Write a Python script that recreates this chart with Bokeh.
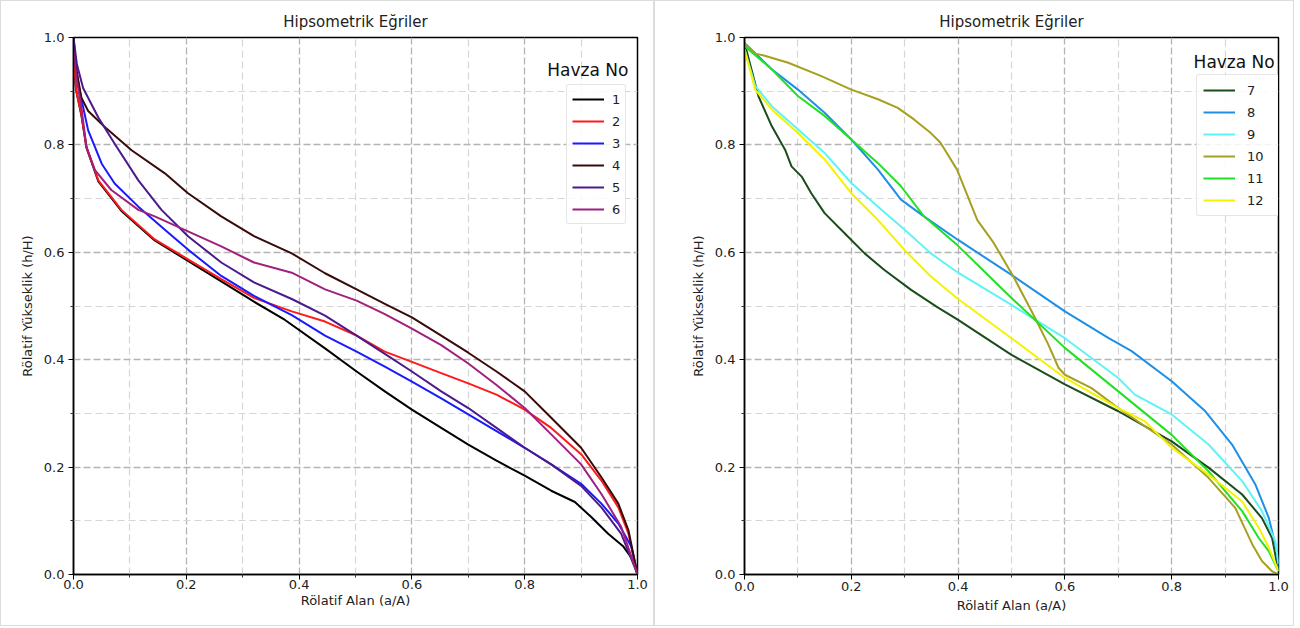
from bokeh.plotting import figure
from bokeh.models import (FixedTicker, NumeralTickFormatter, Legend, LegendItem,
                          Label, Range1d)
from bokeh.layouts import row
from bokeh.embed import file_html
from bokeh.resources import INLINE

FONT = "DejaVu Sans"
TITLE = "Hipsometrik Eğriler"
XLABEL = "Rölatif Alan (a/A)"
YLABEL = "Rölatif Yükseklik (h/H)"
LEGEND_TITLE = "Havza No"
MAJOR_TICKS = [0.0, 0.2, 0.4, 0.6, 0.8, 1.0]
MINOR_TICKS = [0.1, 0.3, 0.5, 0.7, 0.9]

# ---- Left panel: basins 1-6 ----
a1 = [0, 0.005, 0.014, 0.023, 0.044, 0.085, 0.144, 0.203, 0.262, 0.32, 0.375, 0.446, 0.502, 0.552, 0.6, 0.652, 0.7, 0.75, 0.8, 0.847, 0.889, 0.918, 0.948, 0.975, 0.992, 1.0]
h1 = [0.95, 0.9, 0.855, 0.795, 0.732, 0.677, 0.622, 0.584, 0.546, 0.508, 0.474, 0.421, 0.378, 0.341, 0.307, 0.273, 0.242, 0.212, 0.184, 0.156, 0.135, 0.107, 0.076, 0.052, 0.027, 0.0]

a2 = [0, 0.005, 0.014, 0.023, 0.044, 0.085, 0.144, 0.203, 0.262, 0.32, 0.387, 0.446, 0.502, 0.552, 0.6, 0.652, 0.7, 0.75, 0.8, 0.847, 0.9, 0.936, 0.966, 0.984, 1.0]
h2 = [0.96, 0.9, 0.857, 0.796, 0.734, 0.679, 0.624, 0.587, 0.55, 0.515, 0.49, 0.471, 0.445, 0.415, 0.396, 0.375, 0.356, 0.335, 0.307, 0.273, 0.224, 0.175, 0.125, 0.076, 0.0]

a3 = [0, 0.005, 0.011, 0.026, 0.05, 0.073, 0.115, 0.162, 0.203, 0.262, 0.32, 0.387, 0.446, 0.502, 0.552, 0.6, 0.652, 0.7, 0.75, 0.8, 0.847, 0.9, 0.936, 0.966, 0.989, 1.0]
h3 = [0.975, 0.94, 0.9, 0.827, 0.765, 0.728, 0.685, 0.642, 0.605, 0.556, 0.519, 0.483, 0.445, 0.415, 0.387, 0.359, 0.328, 0.298, 0.267, 0.236, 0.205, 0.169, 0.132, 0.095, 0.052, 0.0]

a4 = [0, 0.005, 0.014, 0.026, 0.056, 0.103, 0.162, 0.203, 0.262, 0.32, 0.387, 0.446, 0.502, 0.552, 0.6, 0.652, 0.7, 0.75, 0.8, 0.847, 0.9, 0.936, 0.966, 0.984, 1.0]
h4 = [1.0, 0.94, 0.888, 0.863, 0.833, 0.79, 0.747, 0.71, 0.667, 0.63, 0.598, 0.561, 0.531, 0.504, 0.479, 0.445, 0.413, 0.378, 0.341, 0.292, 0.236, 0.181, 0.132, 0.082, 0.0]

a5 = [0, 0.006, 0.017, 0.044, 0.073, 0.115, 0.156, 0.203, 0.262, 0.32, 0.387, 0.446, 0.502, 0.552, 0.6, 0.652, 0.7, 0.75, 0.8, 0.847, 0.9, 0.936, 0.971, 1.0]
h5 = [1.0, 0.95, 0.906, 0.851, 0.802, 0.734, 0.679, 0.63, 0.581, 0.544, 0.513, 0.482, 0.445, 0.411, 0.378, 0.341, 0.31, 0.273, 0.236, 0.205, 0.165, 0.125, 0.076, 0.0]

a6 = [0, 0.006, 0.014, 0.023, 0.038, 0.067, 0.115, 0.144, 0.203, 0.262, 0.32, 0.387, 0.446, 0.502, 0.552, 0.6, 0.652, 0.7, 0.75, 0.8, 0.847, 0.9, 0.936, 0.971, 1.0]
h6 = [0.975, 0.92, 0.87, 0.796, 0.753, 0.716, 0.679, 0.667, 0.639, 0.611, 0.581, 0.562, 0.531, 0.51, 0.485, 0.458, 0.427, 0.393, 0.353, 0.31, 0.261, 0.205, 0.15, 0.089, 0.0]

# ---- Right panel: basins 7-12 ----
a7 = [0, 0.026, 0.051, 0.076, 0.088, 0.107, 0.125, 0.15, 0.187, 0.225, 0.262, 0.312, 0.361, 0.4, 0.5, 0.6, 0.7, 0.8, 0.869, 0.932, 0.969, 0.988, 1.0]
h7 = [0.99, 0.891, 0.835, 0.791, 0.76, 0.741, 0.71, 0.673, 0.636, 0.598, 0.567, 0.53, 0.498, 0.474, 0.409, 0.354, 0.304, 0.248, 0.199, 0.149, 0.105, 0.068, 0.006]

a8 = [0, 0.051, 0.1, 0.15, 0.2, 0.25, 0.293, 0.336, 0.4, 0.5, 0.6, 0.682, 0.725, 0.8, 0.863, 0.913, 0.957, 0.982, 0.997, 1.0]
h8 = [0.99, 0.941, 0.903, 0.86, 0.81, 0.754, 0.698, 0.667, 0.623, 0.558, 0.49, 0.44, 0.416, 0.36, 0.304, 0.242, 0.167, 0.105, 0.043, 0.01]

a9 = [0, 0.02, 0.051, 0.1, 0.15, 0.2, 0.25, 0.3, 0.349, 0.4, 0.5, 0.6, 0.7, 0.731, 0.8, 0.869, 0.932, 0.969, 0.994, 1.0]
h9 = [0.978, 0.91, 0.872, 0.829, 0.785, 0.729, 0.685, 0.642, 0.598, 0.562, 0.502, 0.44, 0.366, 0.335, 0.298, 0.242, 0.174, 0.118, 0.062, 0.02]

a10 = [0, 0.02, 0.038, 0.082, 0.144, 0.2, 0.25, 0.287, 0.318, 0.349, 0.367, 0.398, 0.436, 0.467, 0.504, 0.544, 0.569, 0.588, 0.6, 0.65, 0.7, 0.8, 0.869, 0.919, 0.951, 0.969, 0.988, 1.0]
h10 = [0.988, 0.97, 0.966, 0.953, 0.928, 0.903, 0.885, 0.869, 0.847, 0.822, 0.804, 0.754, 0.66, 0.617, 0.554, 0.478, 0.428, 0.385, 0.372, 0.347, 0.31, 0.242, 0.18, 0.124, 0.056, 0.025, 0.006, 0.0]

a11 = [0, 0.051, 0.1, 0.15, 0.2, 0.25, 0.293, 0.336, 0.4, 0.5, 0.6, 0.7, 0.8, 0.869, 0.932, 0.963, 0.982, 1.0]
h11 = [0.984, 0.941, 0.891, 0.854, 0.81, 0.766, 0.723, 0.667, 0.612, 0.515, 0.422, 0.341, 0.26, 0.192, 0.118, 0.068, 0.043, 0.006]

a12 = [0, 0.02, 0.051, 0.1, 0.15, 0.2, 0.25, 0.3, 0.349, 0.4, 0.5, 0.6, 0.7, 0.75, 0.8, 0.869, 0.932, 0.963, 0.982, 1.0]
h12 = [0.978, 0.903, 0.866, 0.822, 0.773, 0.71, 0.66, 0.604, 0.555, 0.513, 0.44, 0.366, 0.31, 0.285, 0.236, 0.186, 0.136, 0.087, 0.05, 0.006]

left_names = ["1", "2", "3", "4", "5", "6"]
left_colors = ["#000000", "#ff1a1a", "#1a1aff", "#3a0a0a", "#4b1a8c", "#a0207e"]
left_series = [(a1, h1), (a2, h2), (a3, h3), (a4, h4), (a5, h5), (a6, h6)]

right_names = ["7", "8", "9", "10", "11", "12"]
right_colors = ["#1b4d1b", "#1e8fe6", "#5ff3f5", "#a6a020", "#22e022", "#f5f200"]
right_series = [(a7, h7), (a8, h8), (a9, h9), (a10, h10), (a11, h11), (a12, h12)]


def make_panel(width, height, borders, names, colors, series, legend_loc,
               title_xy, label_standoff, label_width, padding, xstand):
    bl, br, bt, bb = borders
    p = figure(width=width, height=height, output_backend="svg",
               toolbar_location=None,
               x_range=Range1d(0, 1), y_range=Range1d(0, 1),
               min_border_left=bl, min_border_right=br,
               min_border_top=bt, min_border_bottom=bb)
    p.title.text = TITLE
    p.title.align = "center"
    p.title.text_font = FONT
    p.title.text_font_size = "15px"
    p.title.text_font_style = "normal"
    p.title.text_color = "#222222"
    p.title.standoff = 14

    p.outline_line_color = "#000000"
    p.outline_line_width = 1.5
    p.background_fill_color = "white"
    p.border_fill_color = "white"
    p.styles = {"border": "1px solid #dcdcdc"}

    for ax in (p.xaxis[0], p.yaxis[0]):
        ax.ticker = FixedTicker(ticks=MAJOR_TICKS, minor_ticks=MINOR_TICKS)
        ax.formatter = NumeralTickFormatter(format="0.0")
        ax.axis_line_color = "#000000"
        ax.axis_line_width = 1.5
        ax.major_tick_in = 0
        ax.major_tick_out = 5
        ax.minor_tick_in = 0
        ax.minor_tick_out = 3
        ax.major_tick_line_color = "#000000"
        ax.minor_tick_line_color = "#333333"
        ax.major_label_text_font = FONT
        ax.major_label_text_font_size = "13px"
        ax.major_label_text_color = "#222222"
        ax.axis_label_text_font = FONT
        ax.axis_label_text_font_size = "13px"
        ax.axis_label_text_font_style = "normal"
        ax.axis_label_text_color = "#222222"
    p.xaxis[0].major_label_standoff = xstand[0]
    p.xaxis[0].axis_label_standoff = xstand[1]
    p.yaxis[0].major_label_standoff = 4
    p.yaxis[0].axis_label_standoff = 6
    p.xaxis.axis_label = XLABEL
    p.yaxis.axis_label = YLABEL

    for g in (p.xgrid[0], p.ygrid[0]):
        g.grid_line_color = "#b4b4b4"
        g.grid_line_dash = "7 3"
        g.grid_line_width = 1.3
        g.minor_grid_line_color = "#d6d6d6"
        g.minor_grid_line_dash = "7 4"
        g.minor_grid_line_width = 1.2

    items = []
    for name, color, (xs, ys) in zip(names, colors, series):
        r = p.line(xs, ys, line_color=color, line_width=2,
                   line_join="round")
        items.append(LegendItem(label=name, renderers=[r]))

    legend = Legend(items=items, location=legend_loc)
    legend.label_text_font = FONT
    legend.label_text_font_size = "13px"
    legend.label_text_color = "#222222"
    legend.glyph_width = 32
    legend.glyph_height = 18
    legend.label_height = 18
    legend.label_width = label_width
    legend.spacing = 4
    legend.padding = padding
    legend.margin = 0
    legend.label_standoff = label_standoff
    legend.border_line_color = "#cccccc"
    legend.border_line_width = 1
    legend.border_radius = 3
    legend.background_fill_color = "white"
    legend.background_fill_alpha = 0.85
    p.add_layout(legend, "center")

    p.add_layout(Label(x=title_xy[0], y=title_xy[1], text=LEGEND_TITLE,
                       text_font=FONT, text_font_size="17px",
                       text_color="#111111", text_baseline="middle",
                       text_align="left"))
    return p


left = make_panel(654, 626, (72, 18, 34, 48), left_names, left_colors,
                  left_series, (493, 350), (0.84, 0.94), 8, 8, 5, (0, 1))
right = make_panel(640, 626, (89, 17, 36, 53), right_names, right_colors,
                   right_series, (452, 358), (0.841, 0.955), 12, 28, 6, (2, 4))

layout = row(left, right)
open("out.html", "w").write(file_html(layout, INLINE))
